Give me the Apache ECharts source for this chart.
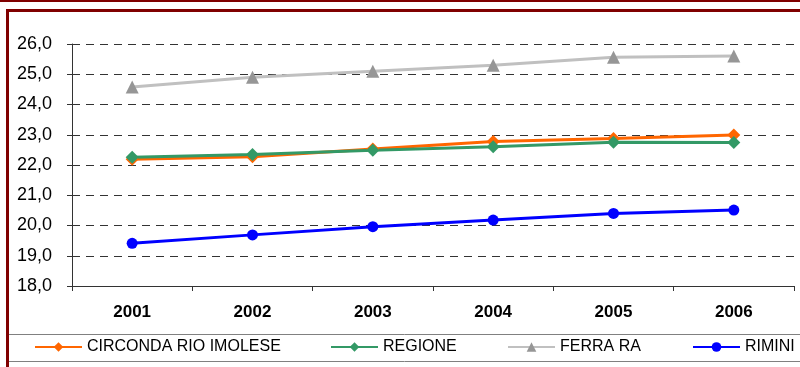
<!DOCTYPE html>
<html>
<head>
<meta charset="utf-8">
<script src="https://cdn.jsdelivr.net/npm/echarts@6/dist/echarts.min.js"></script>
<style>
  html, body { margin: 0; padding: 0; background: #fff; }
  #chart { width: 800px; height: 367px; }
</style>
</head>
<body>
<div id="chart"></div>
<script>
// Years on the category axis
const years = ['2001', '2002', '2003', '2004', '2005', '2006'];

// Series values
const circondarioImolese = [22.19, 22.27, 22.53, 22.78, 22.88, 22.99];
const regione = [22.26, 22.35, 22.49, 22.60, 22.75, 22.74];
const ferrara = [24.58, 24.90, 25.10, 25.30, 25.56, 25.60];
const rimini = [19.41, 19.69, 19.96, 20.18, 20.40, 20.51];

// Legend names
const seriesNames = ['CIRCONDA RIO IMOLESE', 'REGIONE', 'FERRA RA', 'RIMINI'];

// Value axis range
const yMin = 18, yMax = 26, yStep = 1;

const chart = echarts.init(document.getElementById('chart'), null, { renderer: 'canvas' });

const FONT = 'Liberation Sans, Arial, sans-serif';
const legendLefts = [34, 330, 507, 692];

function legendFor(name, left) {
  return {
    data: [name],
    left: left,
    top: 339,
    padding: 0,
    itemWidth: 47,
    itemHeight: 12,
    itemGap: 6,
    textStyle: { fontFamily: FONT, fontSize: 16, color: '#000' },
    selectedMode: false
  };
}

chart.setOption({
  animation: false,
  backgroundColor: '#fff',
  grid: { left: 72, right: 6, top: 44, bottom: 81, containLabel: false },
  legend: seriesNames.map((n, i) => legendFor(n, legendLefts[i])),
  xAxis: {
    type: 'category',
    data: years,
    boundaryGap: true,
    axisLine: { lineStyle: { color: '#333', width: 1 } },
    axisTick: { show: true, length: 5, inside: false, lineStyle: { color: '#333' } },
    axisLabel: { fontFamily: FONT, fontSize: 17, fontWeight: 'bold', color: '#000', margin: 18 },
    splitLine: { show: false }
  },
  yAxis: {
    type: 'value',
    min: yMin,
    max: yMax,
    interval: yStep,
    axisLine: { show: true, lineStyle: { color: '#333', width: 1 } },
    axisTick: { show: true, length: 5, lineStyle: { color: '#333' } },
    axisLabel: {
      fontFamily: FONT, fontSize: 18, color: '#000', margin: 20,
      formatter: v => v.toFixed(1).replace('.', ',')
    },
    splitLine: { show: true, lineStyle: { color: '#333', type: [8, 6], width: 1 } }
  },
  series: [
    {
      name: seriesNames[0], type: 'line', data: circondarioImolese,
      symbol: 'diamond', symbolSize: 13,
      lineStyle: { color: '#FF6600', width: 3 },
      itemStyle: { color: '#FF6600' }
    },
    {
      name: seriesNames[1], type: 'line', data: regione,
      symbol: 'diamond', symbolSize: 13,
      lineStyle: { color: '#339966', width: 3 },
      itemStyle: { color: '#339966' }
    },
    {
      name: seriesNames[2], type: 'line', data: ferrara,
      symbol: 'triangle', symbolSize: 13,
      lineStyle: { color: '#C0C0C0', width: 3 },
      itemStyle: { color: '#969696' }
    },
    {
      name: seriesNames[3], type: 'line', data: rimini,
      symbol: 'circle', symbolSize: 11,
      lineStyle: { color: '#0000FF', width: 3 },
      itemStyle: { color: '#0000FF' }
    }
  ],
  graphic: [
    // top rule
    { type: 'rect', shape: { x: 0, y: 0, width: 800, height: 2 }, style: { fill: '#800000' }, silent: true },
    // frame around the chart
    { type: 'rect', shape: { x: 7.5, y: 10.5, width: 800, height: 370 }, style: { fill: 'none', stroke: '#800000', lineWidth: 3 }, silent: true },
    // legend band separators
    { type: 'line', shape: { x1: 9, y1: 334.5, x2: 800, y2: 334.5 }, style: { stroke: '#808080', lineWidth: 1 }, silent: true },
    { type: 'line', shape: { x1: 9, y1: 361.5, x2: 800, y2: 361.5 }, style: { stroke: '#808080', lineWidth: 1 }, silent: true }
  ]
});
</script>
</body>
</html>
